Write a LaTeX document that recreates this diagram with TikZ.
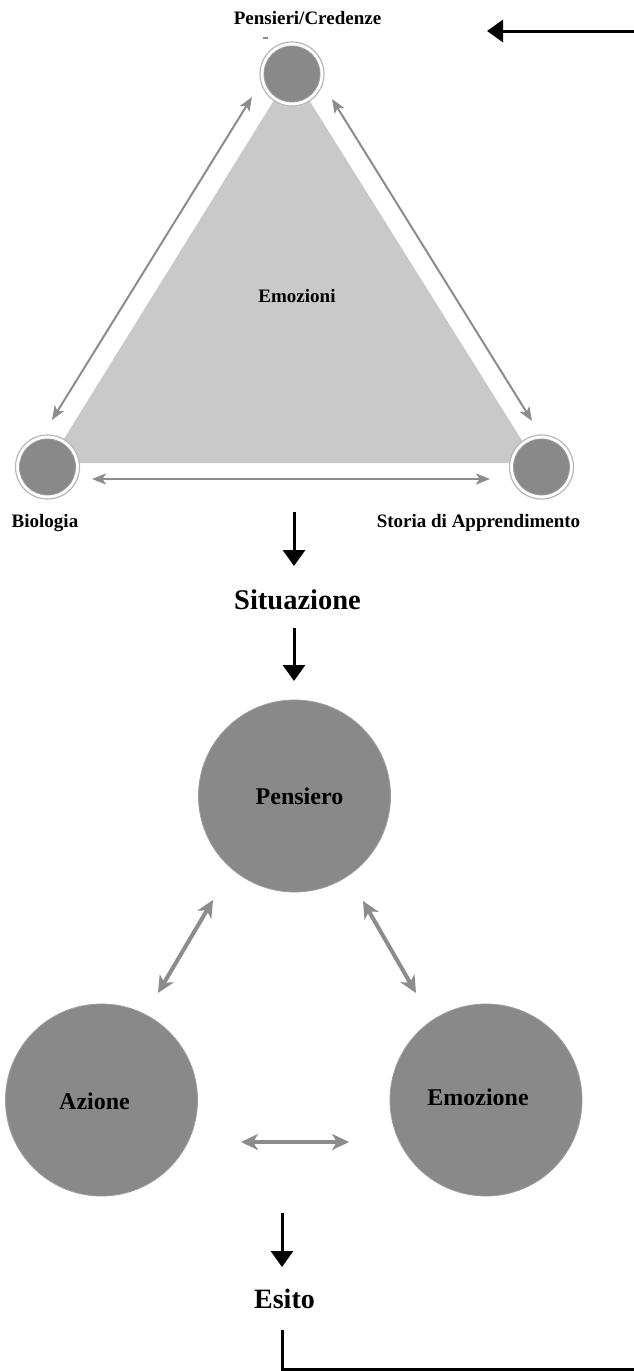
\documentclass[tikz,border=0pt]{standalone}
\usepackage{fontspec}
\setmainfont{Liberation Serif}
\usetikzlibrary{arrows.meta}
\definecolor{circfill}{HTML}{898989}
\definecolor{circedge}{HTML}{9C9C9C}
\definecolor{trifill}{HTML}{C9C9C9}
\definecolor{ringc}{HTML}{B8B8B8}
\definecolor{arrg}{HTML}{8C8C8C}
\begin{document}
\begin{tikzpicture}[x=1pt,y=-1pt,
  lbl/.style={font=\fontsize{19}{21}\selectfont\bfseries, inner sep=0pt, text height=12.5pt, text depth=0pt},
  biglbl/.style={font=\fontsize{24}{26}\selectfont\bfseries, inner sep=0pt, text height=16pt, text depth=0pt},
  ttl/.style={font=\fontsize{28.5}{30}\selectfont\bfseries, inner sep=0pt, text height=19pt, text depth=0pt},
  ring/.style={circle, minimum size=64pt, inner sep=0pt, draw=ringc, line width=1.2pt, fill=white},
  dot/.style={circle, minimum size=56pt, inner sep=0pt, fill=circfill, draw=circedge, line width=0.8pt},
  bigc/.style={circle, minimum size=192pt, inner sep=0pt, fill=circfill, draw=circedge, line width=0.8pt},
  thinarr/.style={arrg, line width=2pt, {Stealth[length=14pt,width=11pt,inset=3.5pt]}-{Stealth[length=14pt,width=11pt,inset=3.5pt]}},
  thickarr/.style={arrg, line width=4pt, {Stealth[length=17pt,width=16pt,inset=5pt]}-{Stealth[length=17pt,width=16pt,inset=5pt]}},
  blackarr/.style={black, line width=3pt, -{Triangle[length=16pt,width=22pt]}},
]
\useasboundingbox (0,0) rectangle (634,1371);
\fill[white] (0,0) rectangle (634,1371);

% top triangle
\fill[trifill] (291.5,72) -- (49,463) -- (536,463) -- cycle;
\node[lbl] (emozioni) at (297,296) {Emozioni};

% small circles
\node[ring] (Pring) at (292,74) {};
\node[dot] (P) at (292,74) {};
\node[ring] (Bring) at (47.5,467) {};
\node[dot] (B) at (47.5,467) {};
\node[ring] (Sring) at (541.5,467) {};
\node[dot] (S) at (541.5,467) {};

\node[lbl] (pc) at (307.5,18) {Pensieri/Credenze};
\draw[arrg, line width=1.2pt] (263,38) -- (268,38);
\node[lbl] (bio) at (45,521) {Biologia};
\node[lbl] (storia) at (478.5,521) {Storia di Apprendimento};

% thin gray arrows
\coordinate (l1) at (252,97);  \coordinate (l2) at (52,420);
\coordinate (r1) at (332,99);  \coordinate (r2) at (532,421);
\coordinate (b1) at (92,479);  \coordinate (b2) at (490,479);
\draw[thinarr] (l1) -- (l2);
\draw[thinarr] (r1) -- (r2);
\draw[thinarr] (b1) -- (b2);

% black arrows
\coordinate (a1s) at (294,512); \coordinate (a1e) at (294,566);
\draw[blackarr] (a1s) -- (a1e);
\node[ttl] (sit) at (297.5,600) {Situazione};
\coordinate (a2s) at (294,628); \coordinate (a2e) at (294,681);
\draw[blackarr] (a2s) -- (a2e);

% big circles
\node[bigc] (pens) at (294.5,796) {};
\node[biglbl] at (pens.center) [xshift=5pt] {Pensiero};
\node[bigc] (az) at (101.5,1100) {};
\node[biglbl] (azt) at (94.5,1101) {Azione};
\node[bigc] (em) at (486,1100) {};
\node[biglbl] (emt) at (478,1097) {Emozione};

% thick gray arrows
\coordinate (t1) at (213,900);  \coordinate (t2) at (158,993);
\coordinate (u1) at (363,901);  \coordinate (u2) at (416,993);
\coordinate (h1) at (241,1142); \coordinate (h2) at (349,1142);
\draw[thickarr] (t1) -- (t2);
\draw[thickarr] (u1) -- (u2);
\draw[thickarr] (h1) -- (h2);

% to outcome
\coordinate (a3s) at (282,1213); \coordinate (a3e) at (282,1267);
\draw[blackarr] (a3s) -- (a3e);
\node[ttl, font=\fontsize{28}{30}\selectfont\bfseries] (esito) at (284.5,1299) {Esito};

% feedback loop
\coordinate (f0) at (282,1330);
\coordinate (f1) at (635.2,1369.5);
\coordinate (f2) at (487,31);
\draw[blackarr] (f0) |- (f1) |- (f2);
\end{tikzpicture}
\end{document}
